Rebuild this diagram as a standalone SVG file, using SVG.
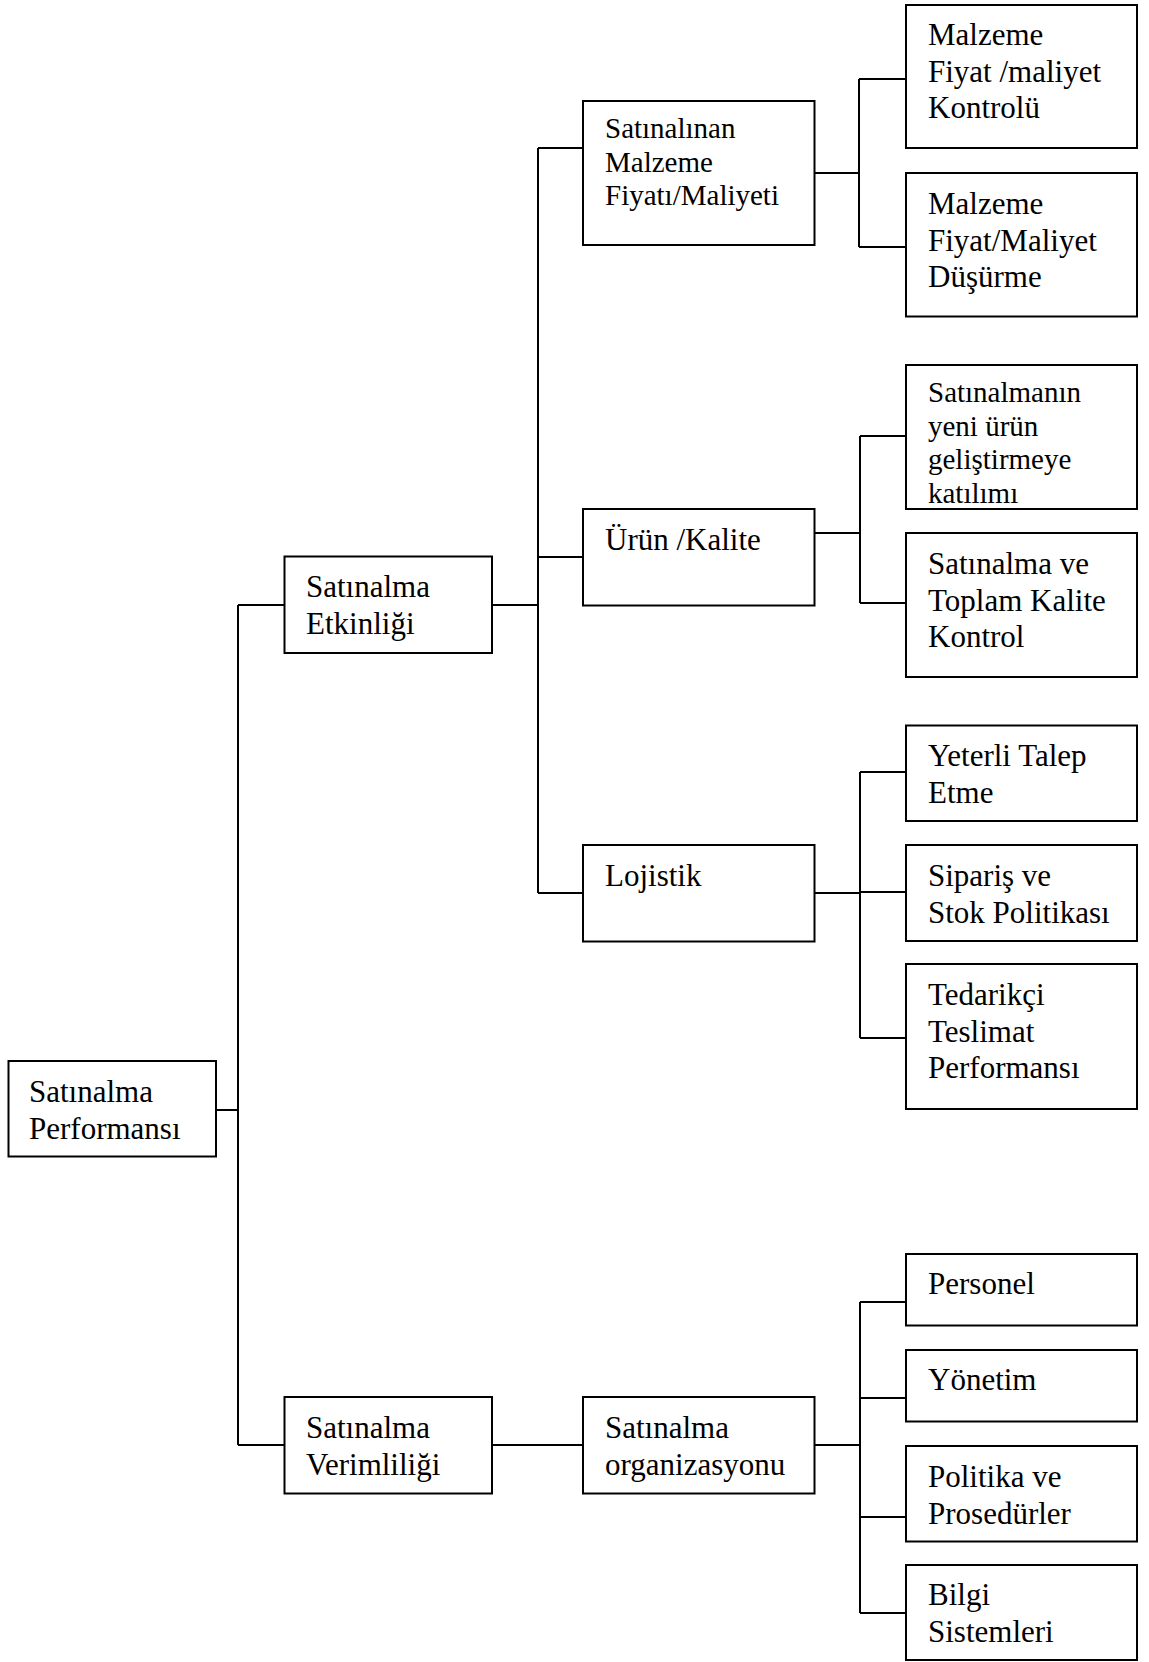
<svg xmlns="http://www.w3.org/2000/svg" width="1149" height="1662" viewBox="0 0 1149 1662">
  <style>
    .box { fill: #ffffff; stroke: #000000; stroke-width: 2; }
    .lbl { font-family: "Liberation Serif", "Times New Roman", serif; font-size: 31px; fill: #000000; }
    .sm { font-size: 29px; }
    .wire { fill: none; stroke: #000000; stroke-width: 2; }
  </style>
  <rect width="1149" height="1662" fill="#ffffff"/>

  <!-- connectors -->
  <g id="connectors" class="wire">
    <path d="M216 1110 H238 M238 605 V1445 M238 605 H284.5 M238 1445 H284.5"/>
    <path d="M492 605 H538 M538 148 V893 M538 148 H583 M538 557 H583 M538 893 H583"/>
    <path d="M492 1445 H583"/>
    <path d="M815 173 H859 M859 79 V247 M859 79 H906 M859 247 H906"/>
    <path d="M815 533 H860 M860 436 V603 M860 436 H906 M860 603 H906"/>
    <path d="M815 893 H860 M860 772 V1038 M860 772 H906 M860 892 H906 M860 1038 H906"/>
    <path d="M815 1445 H860 M860 1302 V1613 M860 1302 H906 M860 1398 H906 M860 1517 H906 M860 1613 H906"/>
  </g>

  <!-- level 0 -->
  <g id="n-performans">
    <rect class="box" x="8.5" y="1061" width="207.5" height="95.5"/>
    <text class="lbl" x="29" y="1102">Satınalma</text>
    <text class="lbl" x="29" y="1139">Performansı</text>
  </g>

  <!-- level 1 -->
  <g id="n-etkinlik">
    <rect class="box" x="284.5" y="556.5" width="207.5" height="96.5"/>
    <text class="lbl" x="306" y="597">Satınalma</text>
    <text class="lbl" x="306" y="634">Etkinliği</text>
  </g>
  <g id="n-verimlilik">
    <rect class="box" x="284.5" y="1397" width="207.5" height="96.5"/>
    <text class="lbl" x="306" y="1438">Satınalma</text>
    <text class="lbl" x="306" y="1475">Verimliliği</text>
  </g>

  <!-- level 2 -->
  <g id="n-maliyet">
    <rect class="box" x="583" y="101" width="231.5" height="144"/>
    <text class="lbl sm" x="605" y="138">Satınalınan</text>
    <text class="lbl sm" x="605" y="171.5">Malzeme</text>
    <text class="lbl sm" x="605" y="205">Fiyatı/Maliyeti</text>
  </g>
  <g id="n-kalite">
    <rect class="box" x="583" y="509" width="231.5" height="96.5"/>
    <text class="lbl" x="605" y="550">Ürün /Kalite</text>
  </g>
  <g id="n-lojistik">
    <rect class="box" x="583" y="845" width="231.5" height="96.5"/>
    <text class="lbl" x="605" y="886">Lojistik</text>
  </g>
  <g id="n-organizasyon">
    <rect class="box" x="583" y="1397" width="231.5" height="96.5"/>
    <text class="lbl" x="605" y="1438">Satınalma</text>
    <text class="lbl" x="605" y="1475">organizasyonu</text>
  </g>

  <!-- level 3 -->
  <g id="n-kontrol">
    <rect class="box" x="906" y="5" width="231" height="143"/>
    <text class="lbl" x="928" y="45">Malzeme</text>
    <text class="lbl" x="928" y="81.5">Fiyat /maliyet</text>
    <text class="lbl" x="928" y="118">Kontrolü</text>
  </g>
  <g id="n-dusurme">
    <rect class="box" x="906" y="173" width="231" height="143.5"/>
    <text class="lbl" x="928" y="214">Malzeme</text>
    <text class="lbl" x="928" y="250.5">Fiyat/Maliyet</text>
    <text class="lbl" x="928" y="287">Düşürme</text>
  </g>
  <g id="n-yeniurun">
    <rect class="box" x="906" y="365" width="231" height="144"/>
    <text class="lbl sm" x="928" y="402">Satınalmanın</text>
    <text class="lbl sm" x="928" y="435.5">yeni ürün</text>
    <text class="lbl sm" x="928" y="469">geliştirmeye</text>
    <text class="lbl sm" x="928" y="502.5">katılımı</text>
  </g>
  <g id="n-tkk">
    <rect class="box" x="906" y="533" width="231" height="144"/>
    <text class="lbl" x="928" y="574">Satınalma ve</text>
    <text class="lbl" x="928" y="610.5">Toplam Kalite</text>
    <text class="lbl" x="928" y="647">Kontrol</text>
  </g>
  <g id="n-talep">
    <rect class="box" x="906" y="725.5" width="231" height="95.5"/>
    <text class="lbl" x="928" y="766">Yeterli Talep</text>
    <text class="lbl" x="928" y="803">Etme</text>
  </g>
  <g id="n-siparis">
    <rect class="box" x="906" y="845" width="231" height="96"/>
    <text class="lbl" x="928" y="886">Sipariş ve</text>
    <text class="lbl" x="928" y="922.5">Stok Politikası</text>
  </g>
  <g id="n-tedarikci">
    <rect class="box" x="906" y="964" width="231" height="145"/>
    <text class="lbl" x="928" y="1005">Tedarikçi</text>
    <text class="lbl" x="928" y="1041.5">Teslimat</text>
    <text class="lbl" x="928" y="1078">Performansı</text>
  </g>
  <g id="n-personel">
    <rect class="box" x="906" y="1254" width="231" height="71.5"/>
    <text class="lbl" x="928" y="1294">Personel</text>
  </g>
  <g id="n-yonetim">
    <rect class="box" x="906" y="1350" width="231" height="71.5"/>
    <text class="lbl" x="928" y="1390">Yönetim</text>
  </g>
  <g id="n-politika">
    <rect class="box" x="906" y="1446" width="231" height="95.5"/>
    <text class="lbl" x="928" y="1487">Politika ve</text>
    <text class="lbl" x="928" y="1523.5">Prosedürler</text>
  </g>
  <g id="n-bilgi">
    <rect class="box" x="906" y="1565" width="231" height="95"/>
    <text class="lbl" x="928" y="1605">Bilgi</text>
    <text class="lbl" x="928" y="1641.5">Sistemleri</text>
  </g>
</svg>
